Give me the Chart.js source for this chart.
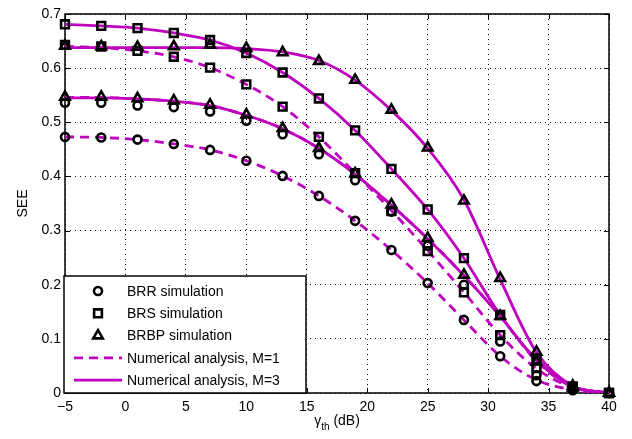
<!DOCTYPE html>
<html>
<head>
<meta charset="utf-8">
<script src="https://cdn.jsdelivr.net/npm/chart.js@4.4.1/dist/chart.umd.min.js"></script>
<style>
  body { margin: 0; background: #fff; }
</style>
</head>
<body>
<canvas id="graficoSEE" width="632" height="439"></canvas>
<script>
// limiar gamma_th (dB) de cada ponto
const gamaTh = [-5, -2, 1, 4, 7, 10, 13, 16, 19, 22, 25, 28, 31, 34, 37, 40];

// SEE simulada (marcadores)
const simBRR_M1  = [0.473, 0.472, 0.468, 0.460, 0.449, 0.429, 0.401, 0.364, 0.318, 0.264, 0.203, 0.135, 0.068, 0.022, 0.005, 0];
const simBRR_M3  = [0.536, 0.536, 0.531, 0.528, 0.520, 0.503, 0.478, 0.441, 0.393, 0.335, 0.272, 0.200, 0.095, 0.033, 0.008, 0];
const simBRS_M1  = [0.643, 0.640, 0.632, 0.621, 0.601, 0.570, 0.529, 0.473, 0.406, 0.336, 0.262, 0.186, 0.107, 0.046, 0.010, 0];
const simBRS_M3  = [0.681, 0.678, 0.674, 0.665, 0.652, 0.628, 0.592, 0.544, 0.485, 0.414, 0.339, 0.249, 0.144, 0.062, 0.012, 0];
const simBRBP_M1 = [0.547, 0.547, 0.544, 0.540, 0.532, 0.514, 0.489, 0.452, 0.405, 0.348, 0.286, 0.218, 0.142, 0.058, 0.010, 0];
const simBRBP_M3 = [0.641, 0.640, 0.639, 0.640, 0.643, 0.637, 0.629, 0.613, 0.578, 0.523, 0.453, 0.355, 0.212, 0.076, 0.013, 0];

// SEE da analise numerica (linhas)
const anaBRR_M1  = [0.473, 0.472, 0.468, 0.460, 0.449, 0.429, 0.401, 0.364, 0.318, 0.264, 0.203, 0.135, 0.068, 0.024, 0.006, 0];
const anaBRR_M3  = [0.545, 0.545, 0.543, 0.539, 0.531, 0.513, 0.488, 0.452, 0.404, 0.347, 0.285, 0.217, 0.142, 0.060, 0.012, 0];
const anaBRS_M1  = [0.640, 0.638, 0.632, 0.621, 0.601, 0.570, 0.529, 0.473, 0.406, 0.337, 0.263, 0.186, 0.107, 0.045, 0.010, 0];
const anaBRS_M3  = [0.681, 0.678, 0.674, 0.665, 0.652, 0.628, 0.592, 0.544, 0.485, 0.414, 0.339, 0.249, 0.144, 0.062, 0.012, 0];
const anaBRBP_M1 = [0.546, 0.546, 0.543, 0.539, 0.531, 0.513, 0.488, 0.452, 0.404, 0.347, 0.285, 0.217, 0.142, 0.059, 0.011, 0];
const anaBRBP_M3 = [0.638, 0.638, 0.638, 0.638, 0.638, 0.636, 0.630, 0.614, 0.578, 0.522, 0.452, 0.357, 0.210, 0.075, 0.013, 0];

const ticksX = [-5, 0, 5, 10, 15, 20, 25, 30, 35, 40];
const ticksY = [0, 0.1, 0.2, 0.3, 0.4, 0.5, 0.6, 0.7];

const rotulosLegenda = ['BRR simulation', 'BRS simulation', 'BRBP simulation',
                        'Numerical analysis, M=1', 'Numerical analysis, M=3'];

const MAGENTA = '#bf00bf';
const FONTE = 'Liberation Sans, Arial, sans-serif';

function pontos(valores) {
    return valores.map((v, i) => ({ x: gamaTh[i], y: v }));
}

function marcadores(label, valores, estilo, raio) {
    return {
        label: label,
        data: pontos(valores),
        showLine: false,
        pointStyle: estilo,
        pointRadius: raio,
        pointBorderWidth: 2.6,
        pointBorderColor: '#000',
        pointBackgroundColor: 'rgba(0,0,0,0)',
        clip: false
    };
}

function curva(label, valores, tracejada) {
    return {
        label: label,
        data: pontos(valores),
        borderColor: MAGENTA,
        borderWidth: 2.8,
        borderDash: tracejada ? [9, 6] : [],
        pointRadius: 0,
        cubicInterpolationMode: 'monotone',
        fill: false
    };
}

// moldura completa e marcas de escala para dentro
const molduraPlugin = {
    id: 'moldura',
    beforeDatasetsDraw(chart) {
        const ctx = chart.ctx, a = chart.chartArea;
        const sx = chart.scales.x, sy = chart.scales.y;
        ctx.save();
        ctx.strokeStyle = '#000';
        ctx.lineWidth = 1;
        ctx.beginPath();
        ticksX.forEach(t => {
            const px = Math.round(sx.getPixelForValue(t)) + 0.5;
            ctx.moveTo(px, a.bottom); ctx.lineTo(px, a.bottom - 5);
            ctx.moveTo(px, a.top); ctx.lineTo(px, a.top + 5);
        });
        ticksY.forEach(t => {
            const py = Math.round(sy.getPixelForValue(t)) + 0.5;
            ctx.moveTo(a.left, py); ctx.lineTo(a.left + 5, py);
            ctx.moveTo(a.right, py); ctx.lineTo(a.right - 5, py);
        });
        ctx.stroke();
        ctx.lineWidth = 1.5;
        ctx.strokeRect(a.left, a.top, a.right - a.left, a.bottom - a.top);
        ctx.restore();
    }
};

// titulo do eixo x com subscrito
const tituloXPlugin = {
    id: 'tituloX',
    afterDraw(chart) {
        const ctx = chart.ctx, a = chart.chartArea;
        ctx.save();
        ctx.fillStyle = '#000';
        ctx.textBaseline = 'alphabetic';
        const grande = '14px ' + FONTE, pequeno = '10px ' + FONTE;
        ctx.font = grande; const w1 = ctx.measureText('\u03b3').width;
        ctx.font = pequeno; const w2 = ctx.measureText('th').width;
        ctx.font = grande; const w3 = ctx.measureText(' (dB)').width;
        let x = (a.left + a.right) / 2 - (w1 + w2 + w3) / 2;
        const base = 425;
        ctx.font = grande; ctx.fillText('\u03b3', x, base); x += w1;
        ctx.font = pequeno; ctx.fillText('th', x, base + 5); x += w2;
        ctx.font = grande; ctx.fillText(' (dB)', x, base);
        ctx.restore();
    }
};

// legenda dentro da area do grafico, canto inferior esquerdo
const legendaPlugin = {
    id: 'legendaSEE',
    afterDraw(chart) {
        const ctx = chart.ctx, a = chart.chartArea;
        const x0 = a.left - 1, y0 = 276, x1 = 306, y1 = a.bottom;
        const estilos = [
            { ponto: 'circle', raio: 4 },
            { ponto: 'rect', raio: 5.5 },
            { ponto: 'triangle', raio: 5.5 },
            { tracejada: true },
            { tracejada: false }
        ];
        ctx.save();
        ctx.fillStyle = '#fff';
        ctx.fillRect(x0, y0, x1 - x0, y1 - y0);
        ctx.strokeStyle = '#000';
        ctx.lineWidth = 1.5;
        ctx.strokeRect(x0, y0, x1 - x0, y1 - y0);
        ctx.font = '14px ' + FONTE;
        ctx.textBaseline = 'middle';
        rotulosLegenda.forEach((texto, i) => {
            const y = y0 + 15 + i * 22.3;
            const e = estilos[i];
            if (e.ponto) {
                ctx.strokeStyle = '#000';
                ctx.fillStyle = 'rgba(0,0,0,0)';
                ctx.lineWidth = 2.6;
                ctx.setLineDash([]);
                Chart.helpers.drawPoint(ctx, { pointStyle: e.ponto, radius: e.raio, borderWidth: 2.6, rotation: 0 }, 98, y);
            } else {
                ctx.strokeStyle = MAGENTA;
                ctx.lineWidth = 2.8;
                ctx.setLineDash(e.tracejada ? [9, 6] : []);
                ctx.beginPath();
                ctx.moveTo(74, y); ctx.lineTo(122, y);
                ctx.stroke();
                ctx.setLineDash([]);
            }
            ctx.fillStyle = '#000';
            ctx.fillText(texto, 127, y + 1);
        });
        ctx.restore();
    }
};

function criarGraficoSEE(canvasID) {
    const ctx = document.getElementById(canvasID).getContext('2d');

    new Chart(ctx, {
        type: 'line',
        data: {
            datasets: [
                marcadores('BRR simulation, M=1', simBRR_M1, 'circle', 4),
                marcadores('BRR simulation, M=3', simBRR_M3, 'circle', 4),
                marcadores('BRS simulation, M=1', simBRS_M1, 'rect', 5.5),
                marcadores('BRS simulation, M=3', simBRS_M3, 'rect', 5.5),
                marcadores('BRBP simulation, M=1', simBRBP_M1, 'triangle', 5.5),
                marcadores('BRBP simulation, M=3', simBRBP_M3, 'triangle', 5.5),
                curva('BRR analysis, M=3', anaBRR_M3, false),
                curva('BRS analysis, M=3', anaBRS_M3, false),
                curva('BRBP analysis, M=3', anaBRBP_M3, false),
                curva('BRR analysis, M=1', anaBRR_M1, true),
                curva('BRS analysis, M=1', anaBRS_M1, true),
                curva('BRBP analysis, M=1', anaBRBP_M1, true)
            ]
        },
        options: {
            responsive: false,
            animation: false,
            devicePixelRatio: 1,
            layout: { padding: { top: 14, right: 23, left: 0, bottom: 0 } },
            plugins: {
                legend: { display: false },
                tooltip: { enabled: false }
            },
            scales: {
                x: {
                    type: 'linear',
                    min: -5,
                    max: 40,
                    afterBuildTicks: s => { s.ticks = ticksX.map(v => ({ value: v })); },
                    afterFit: s => { s.height = 46; },
                    grid: { color: '#000', lineWidth: 1, drawTicks: false },
                    border: { display: false, dash: [1, 4] },
                    ticks: {
                        padding: 6,
                        color: '#000',
                        font: { family: FONTE, size: 14 },
                        callback: v => String(v).replace('-', '\u2212')
                    }
                },
                y: {
                    type: 'linear',
                    min: 0,
                    max: 0.7,
                    afterBuildTicks: s => { s.ticks = ticksY.map(v => ({ value: v })); },
                    afterFit: s => { s.width = 65; },
                    grid: { color: '#000', lineWidth: 1, drawTicks: false },
                    border: { display: false, dash: [1, 4] },
                    ticks: {
                        padding: 4,
                        color: '#000',
                        font: { family: FONTE, size: 14 },
                        callback: v => String(Math.round(v * 10) / 10)
                    },
                    title: {
                        display: true,
                        text: 'SEE',
                        color: '#000',
                        font: { family: FONTE, size: 14 },
                        padding: { top: 15, bottom: 0 }
                    }
                }
            }
        },
        plugins: [molduraPlugin, tituloXPlugin, legendaPlugin]
    });
}

criarGraficoSEE('graficoSEE');
</script>
</body>
</html>
